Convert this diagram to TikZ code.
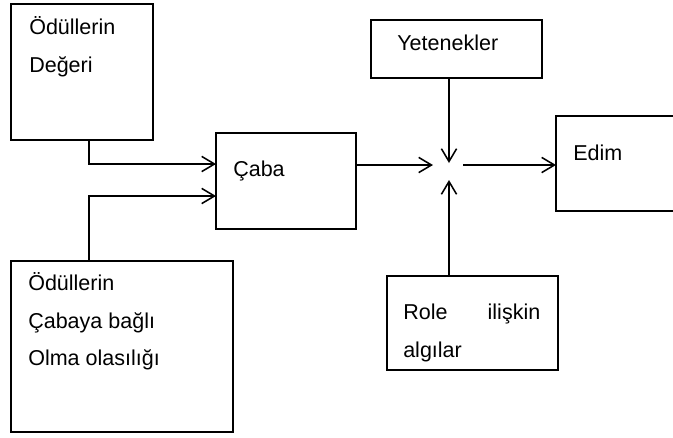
\documentclass[tikz,border=0pt]{standalone}
\usepackage{fontspec}
\setmainfont{Liberation Sans}
\usetikzlibrary{arrows.meta}
\tikzset{
	kutu/.style={draw, line width=1.1pt, inner sep=0pt, outer sep=0pt},
	yazi/.style={anchor=base west, inner sep=0pt, font=\fontsize{15.3}{18}\selectfont},
	ok/.style={line width=1.1pt, -{Straight Barb[length=3.2mm,width=3.8mm]}}
}
\begin{document}
\begin{tikzpicture}[x=0.025cm,y=-0.025cm]
	\useasboundingbox (0,0) rectangle (673,437);
	\clip (0,0) rectangle (673,437);
	\node[kutu, minimum width=3.55cm, minimum height=3.4cm] (deger) at (82,72) {};
	\node[kutu, minimum width=3.5cm, minimum height=2.4cm] (caba) at (286,181) {};
	\node[kutu, minimum width=5.55cm, minimum height=4.275cm] (olasilik) at (122,346.5) {};
	\node[kutu, minimum width=4.275cm, minimum height=1.45cm] (yetenek) at (456.5,49) {};
	\node[kutu, minimum width=3.75cm, minimum height=2.375cm] (edim) at (631,163.5) {};
	\node[kutu, minimum width=4.275cm, minimum height=2.35cm] (rol) at (472.5,323) {};
	
	\node[yazi] (t1) at (29,34) {Ödüllerin};
	\node[yazi] (t2) at (29,72) {Değeri};
	\node[yazi] (t3) at (233,176) {Çaba};
	\node[yazi] (t4) at (397,50) {Yetenekler};
	\node[yazi] (t5) at (573,160) {Edim};
	\node[yazi] (t6) at (28,290) {Ödüllerin};
	\node[yazi] (t7) at (28,328) {Çabaya bağlı};
	\node[yazi] (t8) at (28,365) {Olma olasılığı};
	\node[yazi, text width=3.425cm] (t9) at (403,319) {Role\hfill ilişkin};
	\node[yazi] (t10) at (403,357) {algılar};
	
	\coordinate (d1) at (89,140);
	\coordinate (c1) at (216,164);
	\coordinate (o1) at (89,261);
	\coordinate (c2) at (216,196);
	\coordinate (c3) at (356,165);
	\coordinate (j1) at (433,165);
	\coordinate (y1) at (449,78);
	\coordinate (j2) at (449,163);
	\coordinate (r1) at (449,276);
	\coordinate (j3) at (449,180);
	\coordinate (j4) at (463,165);
	
	\draw[ok] (d1) |- (c1);
	\draw[ok] (o1) |- (c2);
	\draw[ok] (c3) -- (j1);
	\draw[ok] (y1) -- (j2);
	\draw[ok] (r1) -- (j3);
	\draw[ok] (j4) -- (edim.west |- j4);
\end{tikzpicture}
\end{document}
